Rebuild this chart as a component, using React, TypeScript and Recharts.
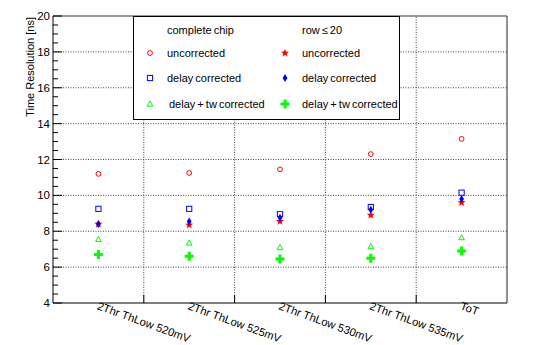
import { ReferenceLine, Scatter, ScatterChart, XAxis, YAxis } from 'recharts'

const categories = ['2Thr ThLow 520mV', '2Thr ThLow 525mV', '2Thr ThLow 530mV', '2Thr ThLow 535mV', 'ToT']

// complete chip
const fullUncorrected = [11.2, 11.25, 11.45, 12.3, 13.15]
const fullDelay = [9.25, 9.25, 8.95, 9.35, 10.15]
const fullDelayTw = [7.55, 7.35, 7.1, 7.15, 7.65]
// row <= 20
const rowUncorrected = [8.4, 8.35, 8.55, 8.9, 9.6]
const rowDelay = [8.4, 8.55, 8.75, 9.2, 9.8]
const rowDelayTw = [6.7, 6.6, 6.45, 6.5, 6.9]

const yMajorTicks = [4, 6, 8, 10, 12, 14, 16, 18, 20]
const yGridTicks = [6, 8, 10, 12, 14, 16, 18]
const yAllTicks = yMajorTicks.flatMap((t, i) =>
  i === yMajorTicks.length - 1 ? [t] : [t, t + 0.5, t + 1, t + 1.5],
)
const xBoundaryTicks = [1, 2, 3, 4]
// label ticks at band centres, tick marks at band boundaries
const xAllTicks = [0.5, 1, 1.5, 2, 2.5, 3, 3.5, 4, 4.5]

const FONT = '"Liberation Sans", Arial, sans-serif'
const RED = '#ff0000'
const BLUE = '#0000ff'
const GREEN = '#00ff00'

const toPoints = (values: number[]) => values.map((y, i) => ({ x: i + 0.5, y }))

type ShapeProps = { cx?: number; cy?: number }

const OpenCircle = ({ cx = 0, cy = 0 }: ShapeProps) => (
  <circle cx={cx} cy={cy} r={2.4} fill="none" stroke={RED} strokeWidth={1} />
)
const OpenSquare = ({ cx = 0, cy = 0 }: ShapeProps) => (
  <rect x={cx - 2.6} y={cy - 2.6} width={5.2} height={5.2} fill="none" stroke={BLUE} strokeWidth={1} />
)
const OpenTriangle = ({ cx = 0, cy = 0 }: ShapeProps) => (
  <polygon points={`${cx},${cy - 3} ${cx + 2.8},${cy + 2.2} ${cx - 2.8},${cy + 2.2}`} fill="none" stroke={GREEN} strokeWidth={1} />
)
const FullStar = ({ cx = 0, cy = 0 }: ShapeProps) => {
  const pts: string[] = []
  for (let k = 0; k < 10; k++) {
    const r = k % 2 === 0 ? 4.2 : 1.8
    const a = -Math.PI / 2 + (k * Math.PI) / 5
    pts.push(`${cx + r * Math.cos(a)},${cy + r * Math.sin(a)}`)
  }
  return <polygon points={pts.join(' ')} fill={RED} />
}
const FullDiamond = ({ cx = 0, cy = 0 }: ShapeProps) => (
  <polygon points={`${cx},${cy - 4} ${cx + 2.4},${cy} ${cx},${cy + 4} ${cx - 2.4},${cy}`} fill={BLUE} />
)
const FullCross = ({ cx = 0, cy = 0 }: ShapeProps) => (
  <path d={`M${cx - 1.5},${cy - 4.5}h3v3h3v3h-3v3h-3v-3h-3v-3h3z`} fill={GREEN} />
)

const series = [
  { key: 'fu', label: 'uncorrected', values: fullUncorrected, Shape: OpenCircle },
  { key: 'fd', label: 'delay corrected', values: fullDelay, Shape: OpenSquare },
  { key: 'ft', label: 'delay + tw corrected', values: fullDelayTw, Shape: OpenTriangle },
  { key: 'ru', label: 'uncorrected', values: rowUncorrected, Shape: FullStar },
  { key: 'rd', label: 'delay corrected', values: rowDelay, Shape: FullDiamond },
  { key: 'rt', label: 'delay + tw corrected', values: rowDelayTw, Shape: FullCross },
]

function YTick({ x, y, payload }: any) {
  const major = yMajorTicks.includes(payload.value)
  return (
    <g>
      <line x1={x} x2={x + (major ? 9 : 5)} y1={y} y2={y} stroke="#000" />
      {major && (
        <text x={x - 3} y={y + 4} textAnchor="end" fontSize={11.5} fill="#000" fontFamily={FONT}>
          {payload.value}
        </text>
      )}
    </g>
  )
}

function XTick({ x, y, payload }: any) {
  if (xBoundaryTicks.includes(payload.value)) {
    return <line x1={x} x2={x} y1={y} y2={y - 8} stroke="#000" />
  }
  const label = categories[Math.floor(payload.value)]
  const tx = x - 2
  const ty = y + 6
  return (
    <text x={tx} y={ty} transform={`rotate(20 ${tx} ${ty})`} fontSize={11.2} fill="#000" fontFamily={FONT}>
      {label}
    </text>
  )
}

function LegendBox() {
  const rows = [40, 65, 91]
  return (
    <div
      style={{
        position: 'absolute',
        left: 133,
        top: 16,
        width: 267,
        height: 104,
        boxSizing: 'border-box',
        border: '1px solid #000',
        background: '#fff',
      }}
    >
      <svg width={265} height={102} style={{ display: 'block' }} fontFamily={FONT} fontSize={11} wordSpacing={-1}>
        <text x={33} y={17} fill="#000">complete chip</text>
        <text x={168} y={17} fill="#000">row ≤ 20</text>
        {series.map((s, i) => {
          const col = i < 3 ? 0 : 1
          const row = rows[i % 3]
          const mx = col === 0 ? 16 : 151
          const tx = col === 0 ? (i === 2 ? 35 : 33) : 168
          return (
            <g key={s.key}>
              <s.Shape cx={mx} cy={row - 4} />
              <text x={tx} y={row} fill="#000">{s.label}</text>
            </g>
          )
        })}
      </svg>
    </div>
  )
}

export default function App() {
  return (
    <div style={{ position: 'absolute', left: 0, top: 0, width: 534, height: 345, background: '#fff' }}>
      <ScatterChart width={534} height={345} margin={{ top: 16, right: 27, bottom: 0, left: 13 }}>
        <XAxis
          type="number"
          dataKey="x"
          domain={[0, 5]}
          ticks={xAllTicks}
          height={42}
          tickLine={false}
          tickSize={0}
          tickMargin={0}
          tick={<XTick />}
          interval={0}
          axisLine={{ stroke: '#000' }}
        />
        <YAxis
          type="number"
          dataKey="y"
          domain={[4, 20]}
          ticks={yAllTicks}
          width={40}
          tickSize={0}
          tickMargin={0}
          tickLine={false}
          tick={<YTick />}
          interval={0}
          axisLine={{ stroke: '#000' }}
          label={{
            content: ({ viewBox }: any) => (
              <text
                x={0}
                y={0}
                transform={`translate(${viewBox.x + 21} ${viewBox.y + 1}) rotate(-90)`}
                textAnchor="end"
                fontSize={11}
                fill="#000"
                fontFamily={FONT}
              >
                Time Resolution [ns]
              </text>
            ),
          }}
        />
        {yGridTicks.map((v) => (
          <ReferenceLine key={`h${v}`} y={v} stroke="#444" strokeDasharray="1 1.5" />
        ))}
        {xBoundaryTicks.map((v) => (
          <ReferenceLine key={`v${v}`} x={v} stroke="#444" strokeDasharray="1 1.5" />
        ))}
        <ReferenceLine y={20} stroke="#777" strokeWidth={1.5} />
        <ReferenceLine x={5} stroke="#222" />
        {series.map((s) => (
          <Scatter
            key={s.key}
            name={s.label}
            data={toPoints(s.values)}
            shape={(p: any) => <s.Shape cx={p.cx} cy={p.cy} />}
            isAnimationActive={false}
          />
        ))}
      </ScatterChart>
      <LegendBox />
    </div>
  )
}
